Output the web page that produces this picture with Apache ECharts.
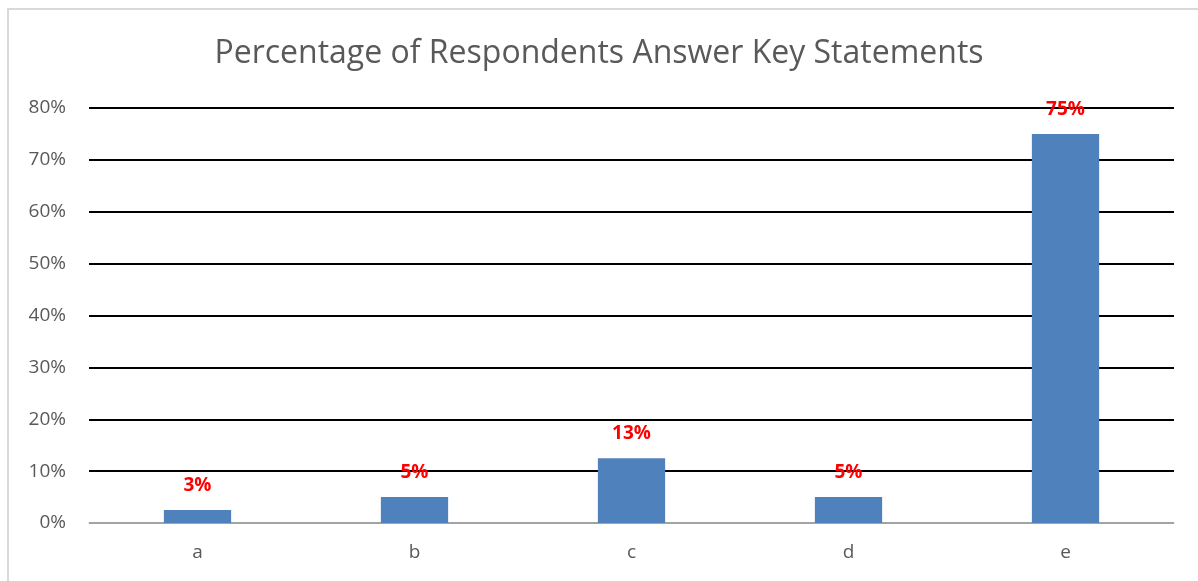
<!DOCTYPE html>
<html>
<head>
<meta charset="utf-8">
<script src="https://cdn.jsdelivr.net/npm/echarts@6/dist/echarts.min.js"></script>
<style>
html,body{margin:0;padding:0;background:#fff;}
#frame{position:absolute;left:7px;top:8px;width:1191px;height:573px;border-top:2px solid #d9d9d9;border-left:2px solid #d9d9d9;box-sizing:border-box;}
#chart{position:absolute;left:0;top:0;width:1198px;height:581px;}
</style>
</head>
<body>
<div id="frame"></div>
<div id="chart"></div>
<script>
const categories = ['a', 'b', 'c', 'd', 'e'];
const values = [2.5, 5, 12.5, 5, 75];
const yTicks = [0, 10, 20, 30, 40, 50, 60, 70, 80];
const titleText = 'Percentage of Respondents Answer Key Statements';

const chart = echarts.init(document.getElementById('chart'), null, {renderer: 'canvas'});
chart.setOption({
  animation: false,
  backgroundColor: 'transparent',
  title: {
    text: titleText,
    left: 'center',
    top: 33,
    textStyle: {fontFamily: 'Open Sans', fontSize: 32, fontWeight: 'normal', color: '#595959'}
  },
  grid: {left: 89, right: 24, top: 108, bottom: 58, containLabel: false},
  xAxis: {
    type: 'category',
    data: categories,
    axisLine: {lineStyle: {color: '#d9d9d9', width: 1.5}},
    axisTick: {show: false},
    axisLabel: {fontFamily: 'Open Sans', fontSize: 19, color: '#595959', margin: 20}
  },
  yAxis: {
    type: 'value',
    min: yTicks[0],
    max: yTicks[yTicks.length - 1],
    interval: 10,
    axisLine: {show: false},
    axisTick: {show: false},
    axisLabel: {fontFamily: 'Open Sans', fontSize: 19, color: '#595959', margin: 23, formatter: v => v + '%'},
    splitLine: {lineStyle: {color: '#000', width: 2}}
  },
  series: [{
    type: 'bar',
    data: values,
    barWidth: '31%',
    itemStyle: {color: '#4f81bd'},
    z: 3,
    label: {
      show: true,
      position: 'top',
      distance: 15,
      fontFamily: 'Open Sans',
      fontSize: 19,
      fontWeight: 'bold',
      color: '#ff0000',
      formatter: p => Math.round(p.value) + '%'
    }
  }]
});
</script>
</body>
</html>
